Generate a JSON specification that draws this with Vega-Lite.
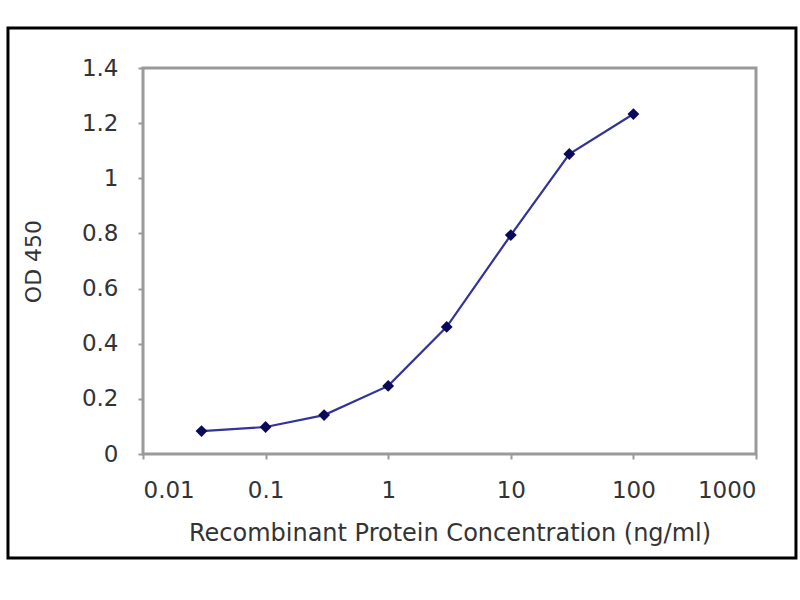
{
  "$schema": "https://vega.github.io/schema/vega-lite/v6.json",
  "width": 613,
  "height": 386,
  "autosize": "none",
  "padding": {"left": 143, "top": 68, "right": 44, "bottom": 146},
  "background": "white",
  "config": {
    "view": {"stroke": "#9a9a9a", "strokeWidth": 3},
    "axis": {
      "labelFont": "DejaVu Sans",
      "titleFont": "DejaVu Sans",
      "labelFontSize": 23,
      "titleFontSize": 22,
      "labelColor": "#333333",
      "titleColor": "#333333",
      "titleFontWeight": "normal",
      "domain": false,
      "tickColor": "#9a9a9a",
      "tickWidth": 2,
      "tickSize": 5
    }
  },
  "layer": [
    {
      "data": {"values": [{"frame": 1}]},
      "mark": {"type": "rect", "fill": "transparent", "stroke": "black", "strokeWidth": 3, "clip": false},
      "encoding": {
        "x": {"datum": 0.000792, "type": "quantitative", "scale": {"type": "log", "domain": [0.01, 1000], "nice": false}},
        "x2": {"datum": 2118},
        "y": {"datum": 1.545, "type": "quantitative", "scale": {"domain": [0, 1.4], "nice": false}},
        "y2": {"datum": -0.377}
      }
    },
    {
      "data": {
        "values": [
          {"conc": 0.03, "od": 0.083},
          {"conc": 0.1, "od": 0.098},
          {"conc": 0.3, "od": 0.141},
          {"conc": 1, "od": 0.247},
          {"conc": 3, "od": 0.461},
          {"conc": 10, "od": 0.794},
          {"conc": 30, "od": 1.088},
          {"conc": 100, "od": 1.233}
        ]
      },
      "encoding": {
        "x": {
          "field": "conc",
          "type": "quantitative",
          "title": "Recombinant Protein Concentration (ng/ml)",
          "scale": {"type": "log", "domain": [0.01, 1000], "nice": false},
          "axis": {
            "values": [0.01, 0.1, 1, 10, 100, 1000],
            "format": "~g",
            "grid": false,
            "labelPadding": 20,
            "titlePadding": 19,
            "titleFontSize": 24
          }
        },
        "y": {
          "field": "od",
          "type": "quantitative",
          "title": "OD 450",
          "scale": {"domain": [0, 1.4], "nice": false},
          "axis": {
            "values": [0, 0.2, 0.4, 0.6, 0.8, 1, 1.2, 1.4],
            "format": "~g",
            "gridColor": "#a8a8a8",
            "gridWidth": 2,
            "labelPadding": 20,
            "titlePadding": 36
          }
        }
      },
      "layer": [
        {"mark": {"type": "line", "color": "#333399", "strokeWidth": 2.2}},
        {"mark": {"type": "point", "shape": "diamond", "filled": true, "size": 140, "color": "#0a0a5a", "opacity": 1}}
      ]
    }
  ]
}
